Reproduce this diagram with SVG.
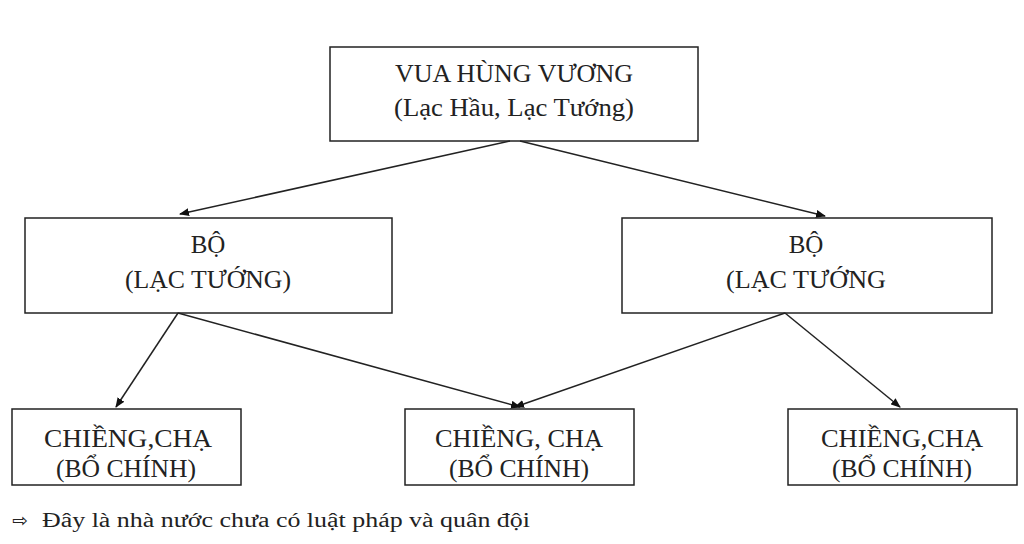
<svg xmlns="http://www.w3.org/2000/svg" width="1024" height="544" viewBox="0 0 1024 544">
<defs><marker id="ah" markerWidth="10" markerHeight="8" refX="9" refY="4" orient="auto" markerUnits="userSpaceOnUse"><path d="M0,0 L10,4 L0,8 z" fill="#111"/></marker></defs>
<style>
rect{fill:#fff;stroke:#222;stroke-width:1.5}
text{font-family:"Liberation Serif",serif;font-size:25px;fill:#222;text-anchor:middle}
.c line{stroke:#222;stroke-width:1.5;marker-end:url(#ah)}
</style>
<rect x="0" y="0" width="1024" height="544" style="stroke:none"/>
<g id="top"><rect x="330" y="47" width="368" height="94"/><text x="514" y="82" textLength="238" lengthAdjust="spacingAndGlyphs">VUA HÙNG VƯƠNG</text><text x="514" y="116" textLength="240" lengthAdjust="spacingAndGlyphs">(Lạc Hầu, Lạc Tướng)</text></g>
<g id="boL"><rect x="25" y="218" width="367" height="95"/><text x="208" y="253">BỘ</text><text x="208" y="288" textLength="166" lengthAdjust="spacingAndGlyphs">(LẠC TƯỚNG)</text></g>
<g id="boR"><rect x="622" y="218" width="370" height="95"/><text x="806" y="253">BỘ</text><text x="806" y="288" textLength="160" lengthAdjust="spacingAndGlyphs">(LẠC TƯỚNG</text></g>
<g id="c1"><rect x="12" y="409" width="229" height="76"/><text x="128" y="447" textLength="168" lengthAdjust="spacingAndGlyphs">CHIỀNG,CHẠ</text><text x="126" y="477" textLength="140" lengthAdjust="spacingAndGlyphs">(BỔ CHÍNH)</text></g>
<g id="c2"><rect x="405" y="409" width="229" height="76"/><text x="519" y="447" textLength="168" lengthAdjust="spacingAndGlyphs">CHIỀNG, CHẠ</text><text x="519" y="477" textLength="140" lengthAdjust="spacingAndGlyphs">(BỔ CHÍNH)</text></g>
<g id="c3"><rect x="788" y="409" width="229" height="76"/><text x="902" y="447" textLength="162" lengthAdjust="spacingAndGlyphs">CHIỀNG,CHẠ</text><text x="902" y="477" textLength="140" lengthAdjust="spacingAndGlyphs">(BỔ CHÍNH)</text></g>
<g class="c">
<line x1="510" y1="141" x2="180" y2="214"/>
<line x1="520" y1="141" x2="825" y2="216"/>
<line x1="178" y1="313" x2="116" y2="407"/>
<line x1="178" y1="313" x2="520" y2="407"/>
<line x1="785" y1="313" x2="515" y2="407"/>
<line x1="785" y1="313" x2="900" y2="407"/>
</g>
<text x="12" y="527" style="text-anchor:start;font-size:19px;font-family:'DejaVu Sans',sans-serif">⇨</text>
<text x="42" y="527" style="text-anchor:start;font-size:20px" textLength="488" lengthAdjust="spacingAndGlyphs">Đây là nhà nước chưa có luật pháp và quân đội</text>
</svg>
